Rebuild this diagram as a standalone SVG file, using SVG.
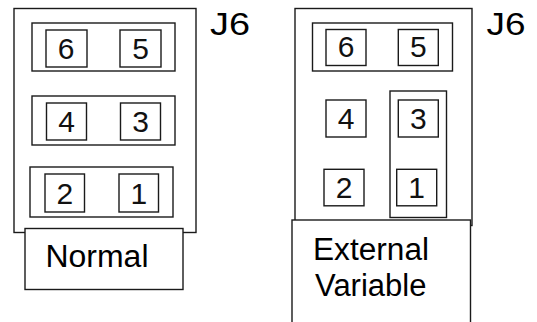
<svg xmlns="http://www.w3.org/2000/svg" width="537" height="322" viewBox="0 0 537 322">
<style>
rect{fill:#fff;stroke:#1a1a1a;stroke-width:1.4}
.lbl{font-family:"Liberation Sans",Arial,sans-serif;font-size:31px;fill:#000}
.pin{font-family:"Liberation Sans",Arial,sans-serif;font-size:30px;fill:#111;text-anchor:middle}
</style>
<rect width="537" height="322" style="fill:#fff;stroke:none"/>
<g id="normal-header">
<rect x="14" y="8.5" width="182" height="224"/>
<g id="normal-row1"><rect x="32" y="23" width="143" height="48"/>
<rect x="46" y="30" width="41" height="37"/><text class="pin" x="66" y="59">6</text>
<rect x="120" y="30" width="41" height="37"/><text class="pin" x="140.5" y="59">5</text></g>
<g id="normal-row2"><rect x="32" y="96" width="143" height="49"/>
<rect x="46.5" y="103" width="40" height="37"/><text class="pin" x="66.5" y="132">4</text>
<rect x="120.5" y="103" width="40" height="37"/><text class="pin" x="140.5" y="132">3</text></g>
<g id="normal-row3"><rect x="30" y="167" width="143" height="50"/>
<rect x="45" y="174" width="39.5" height="38"/><text class="pin" x="64.75" y="203.5">2</text>
<rect x="119" y="174" width="39.5" height="38"/><text class="pin" x="138.75" y="203.5">1</text></g>
<text class="lbl" x="210" y="35" textLength="40" lengthAdjust="spacingAndGlyphs">J6</text>
</g>
<g id="normal-label"><rect x="25" y="228.5" width="158" height="61"/><text class="lbl" x="45.5" y="266.7" textLength="103" lengthAdjust="spacingAndGlyphs">Normal</text></g>
<g id="external-header">
<rect x="295" y="8.5" width="177" height="217"/>
<g id="ext-row1"><rect x="312.5" y="23" width="140" height="48"/>
<rect x="326" y="29.5" width="40" height="36"/><text class="pin" x="346" y="57">6</text>
<rect x="398.3" y="29.5" width="40" height="36"/><text class="pin" x="418.3" y="57">5</text></g>
<rect x="390" y="91" width="56.5" height="126.5"/>
<rect x="326" y="100" width="40" height="37"/><text class="pin" x="346" y="129">4</text>
<rect x="398.3" y="100" width="40" height="37"/><text class="pin" x="418.3" y="129">3</text>
<rect x="324" y="169.3" width="40" height="36.5"/><text class="pin" x="344" y="198">2</text>
<rect x="396.7" y="169.3" width="40" height="36.5"/><text class="pin" x="416.7" y="198">1</text>
<text class="lbl" x="486.5" y="35" textLength="39" lengthAdjust="spacingAndGlyphs">J6</text>
</g>
<g id="external-label"><rect x="292" y="220" width="178.5" height="120"/>
<text class="lbl" x="313" y="260" textLength="116" lengthAdjust="spacingAndGlyphs">External</text><text class="lbl" x="315" y="296">Variable</text></g>
</svg>
